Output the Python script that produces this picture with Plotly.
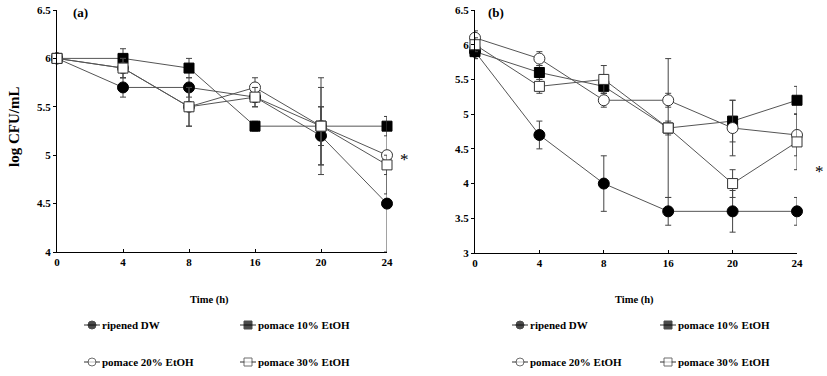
import plotly.graph_objects as go

# ---------------- data ----------------
time_labels = ["0", "4", "8", "16", "20", "24"]
series_names = ["ripened DW", "pomace 10% EtOH", "pomace 20% EtOH", "pomace 30% EtOH"]

# panel (a)
a_dw = [6.0, 5.7, 5.7, 5.6, 5.2, 4.5]
a_dw_err = [0.05, 0.1, 0.1, 0.1, 0.3, 0.5]
a_p10 = [6.0, 6.0, 5.9, 5.3, 5.3, 5.3]
a_p10_err = [0.05, 0.1, 0.1, 0.05, 0.4, 0.1]
a_p20 = [6.0, 5.9, 5.5, 5.7, 5.3, 5.0]
a_p20_err = [0.05, 0.1, 0.2, 0.1, 0.5, 0.4]
a_p30 = [6.0, 5.9, 5.5, 5.6, 5.3, 4.9]
a_p30_err = [0.05, 0.1, 0.2, 0.1, 0.2, 0.1]

# panel (b)
b_dw = [5.9, 4.7, 4.0, 3.6, 3.6, 3.6]
b_dw_err = [0.1, 0.2, 0.4, 0.2, 0.3, 0.2]
b_p10 = [5.9, 5.6, 5.4, 4.8, 4.9, 5.2]
b_p10_err = [0.1, 0.1, 0.1, 1.0, 0.3, 0.2]
b_p20 = [6.1, 5.8, 5.2, 5.2, 4.8, 4.7]
b_p20_err = [0.1, 0.1, 0.1, 0.1, 0.4, 0.3]
b_p30 = [6.0, 5.4, 5.5, 4.8, 4.0, 4.6]
b_p30_err = [0.1, 0.1, 0.2, 0.1, 0.2, 0.4]

a_yticks = [4, 4.5, 5, 5.5, 6, 6.5]
b_yticks = [3, 3.5, 4, 4.5, 5, 5.5, 6, 6.5]

# ---------------- styling ----------------
W, H = 827, 376
FONT = "Liberation Serif"
LINE_C = "#555555"
ERR_C = "#444444"

styles = [
    dict(symbol="circle", color="black", line=dict(color="black", width=1), size=11),
    dict(symbol="square", color="black", line=dict(color="black", width=1), size=10),
    dict(symbol="circle", color="white", line=dict(color="#333333", width=1), size=11),
    dict(symbol="square", color="white", line=dict(color="#333333", width=1), size=10),
]

x_idx = list(range(len(time_labels)))

fig = go.Figure()

def add_panel(vals, errs, xa, ya):
    for name, v, e, st in zip(series_names, vals, errs, styles):
        fig.add_trace(go.Scatter(
            x=x_idx, y=v, mode="lines+markers", name=name, showlegend=False,
            xaxis=xa, yaxis=ya, cliponaxis=False,
            line=dict(color=LINE_C, width=1),
            marker=st,
            error_y=dict(type="data", array=e, visible=True, color=ERR_C,
                         thickness=1, width=3),
        ))

add_panel([a_dw, a_p10, a_p20, a_p30], [a_dw_err, a_p10_err, a_p20_err, a_p30_err], "x", "y")
add_panel([b_dw, b_p10, b_p20, b_p30], [b_dw_err, b_p10_err, b_p20_err, b_p30_err], "x2", "y2")

# legend symbols drawn on a full-figure overlay axis (pixel units)
legend_cols_a = [92, 248]
legend_cols_b = [520, 668]
legend_rows = [325, 362]
leg_positions = []
for cols in (legend_cols_a, legend_cols_b):
    for i in range(4):
        leg_positions.append((cols[i % 2], legend_rows[i // 2], i))

for (lx, ly, i) in leg_positions:
    st = styles[i]
    st = dict(symbol=st["symbol"], color=st["color"], line=st["line"], size=[0, 8, 0])
    fig.add_trace(go.Scatter(
        x=[lx - 8, lx, lx + 8], y=[ly, ly, ly], mode="lines+markers",
        xaxis="x3", yaxis="y3", showlegend=False, cliponaxis=False,
        line=dict(color="#333333", width=1), marker=st, hoverinfo="skip",
    ))

BOLD = dict(family=FONT, color="black", weight="bold")

annotations = []
for (lx, ly, i) in leg_positions:
    annotations.append(dict(
        x=(lx + 8) / W, y=1 - ly / H, xref="paper", yref="paper",
        text=series_names[i], showarrow=False, xanchor="left", yanchor="middle",
        font=dict(size=11, **BOLD),
    ))

# panel labels, axis titles, asterisks
annotations += [
    dict(x=71 / W, y=1 - 13 / H, text="(a)", xref="paper", yref="paper", showarrow=False,
         xanchor="left", yanchor="middle", font=dict(size=13, **BOLD)),
    dict(x=486 / W, y=1 - 13 / H, text="(b)", xref="paper", yref="paper", showarrow=False,
         xanchor="left", yanchor="middle", font=dict(size=13, **BOLD)),
    dict(x=14 / W, y=1 - 127 / H, text="log CFU/mL", xref="paper", yref="paper", showarrow=False,
         textangle=-90, xanchor="center", yanchor="middle", font=dict(size=15, **BOLD)),
    dict(x=209 / W, y=1 - 300 / H, text="Time (h)", xref="paper", yref="paper", showarrow=False,
         xanchor="center", yanchor="middle", font=dict(size=10.5, **BOLD)),
    dict(x=634 / W, y=1 - 300 / H, text="Time (h)", xref="paper", yref="paper", showarrow=False,
         xanchor="center", yanchor="middle", font=dict(size=10.5, **BOLD)),
    dict(x=404 / W, y=1 - 159 / H, text="*", xref="paper", yref="paper", showarrow=False,
         xanchor="center", yanchor="middle", font=dict(family=FONT, size=17, color="black")),
    dict(x=819 / W, y=1 - 172 / H, text="*", xref="paper", yref="paper", showarrow=False,
         xanchor="center", yanchor="middle", font=dict(family=FONT, size=17, color="black")),
]

tickfont = dict(size=11, **BOLD)
xcommon = dict(tickmode="array", tickvals=x_idx, ticktext=time_labels, range=[0, 5],
               showline=True, linecolor="black", linewidth=1, ticks="inside", ticklen=3,
               tickcolor="black", showgrid=False, zeroline=False, tickfont=tickfont,
               automargin=False)

fig.update_layout(
    width=W, height=H, margin=dict(l=0, r=0, t=0, b=0),
    paper_bgcolor="white", plot_bgcolor="rgba(0,0,0,0)",
    font=dict(family=FONT, color="black"),
    showlegend=False,
    xaxis=dict(domain=[57 / W, 387 / W], anchor="y", **xcommon),
    yaxis=dict(domain=[1 - 252 / H, 1 - 10 / H], anchor="x", range=[4, 6.5],
               tickmode="array", tickvals=a_yticks, ticktext=[f"{t:g}" for t in a_yticks],
               showline=True, linecolor="black", linewidth=1, ticks="outside", ticklen=3,
               tickcolor="black", showgrid=False, zeroline=False, tickfont=tickfont,
               automargin=False),
    xaxis2=dict(domain=[475 / W, 797 / W], anchor="y2", **xcommon),
    yaxis2=dict(domain=[1 - 253 / H, 1 - 10 / H], anchor="x2", range=[3, 6.5],
                tickmode="array", tickvals=b_yticks, ticktext=[f"{t:g}" for t in b_yticks],
                showline=True, linecolor="black", linewidth=1, ticks="outside", ticklen=3,
                tickcolor="black", showgrid=False, zeroline=False, tickfont=tickfont,
                automargin=False),
    xaxis3=dict(domain=[0, 1], anchor="y3", range=[0, W], visible=False, fixedrange=True,
                automargin=False),
    yaxis3=dict(domain=[0, 1], anchor="x3", range=[H, 0], visible=False, fixedrange=True,
                automargin=False),
    annotations=annotations,
)

fig.write_html(
    "out.html",
    config=dict(displayModeBar=False),
    post_script="document.body.style.margin='0';document.body.style.overflow='hidden';",
)
